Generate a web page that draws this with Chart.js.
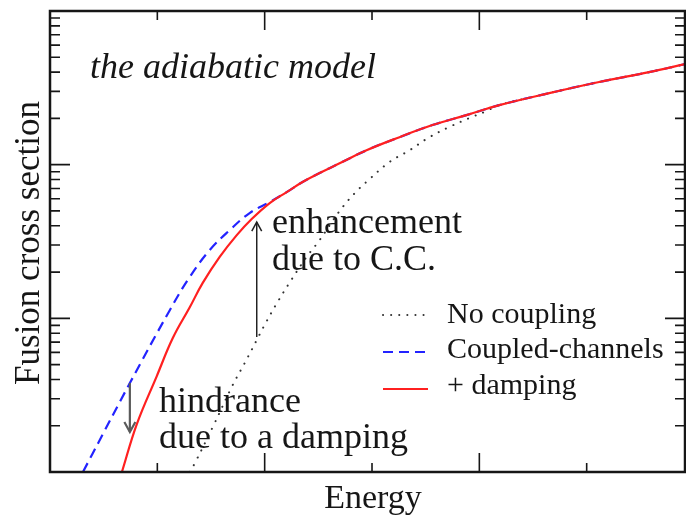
<!DOCTYPE html>
<html>
<head>
<meta charset="utf-8">
<script src="https://cdn.jsdelivr.net/npm/chart.js@4.4.0/dist/chart.umd.min.js"></script>
<style>
  html, body { margin: 0; padding: 0; background: #fff; }
  canvas { display: block; }
</style>
</head>
<body>
<canvas id="fusion" width="686" height="515"></canvas>
<script>
// values (arbitrary units, y is log)
var dampE     = [0.67, 0.809, 0.995, 1.144, 1.302, 1.423, 1.581, 1.74, 1.879, 2.047, 2.205, 2.353, 2.512, 2.698, 2.949, 3.256, 3.563, 3.879, 4.186, 4.651, 5.116, 5.581, 5.916];
var dampSigma = [1.0, 2.05, 4.21, 7.44, 11.8, 17.0, 25.1, 34.8, 44.3, 56.3, 66.3, 77.1, 88.2, 102, 124, 151, 181, 210, 244, 292, 345, 400, 451];

var ccE     = [0.307, 0.4, 0.744, 1.116, 1.302, 1.488, 1.674, 1.86, 2.047, 2.205, 2.353, 2.512, 2.698, 2.949, 3.256, 3.563, 3.879, 4.186, 4.651, 5.116, 5.581, 5.916];
var ccSigma = [1.0, 1.33, 3.79, 11.3, 18.6, 27.8, 37.5, 48.4, 57.1, 66.3, 77.1, 88.2, 102, 124, 151, 181, 210, 244, 292, 345, 400, 451];

var noCoupE     = [1.302, 1.349, 1.516, 1.702, 1.814, 1.926, 2.009, 2.121, 2.242, 2.391, 2.512, 2.698, 2.837, 2.977, 3.163, 3.349, 3.535, 3.721, 3.907, 4.065, 4.186, 4.651, 5.116, 5.581, 5.916];
var noCoupSigma = [1.0, 1.14, 1.96, 3.68, 5.12, 7.22, 9.32, 12.8, 17.5, 25.1, 32.3, 49.9, 65.0, 80.5, 104, 124, 151, 176, 201, 223, 244, 292, 345, 400, 451];

var legendLabels = ['No coupling', 'Coupled-channels', '+ damping'];

var xMajorTicks = [2, 4];
var xMinorTicks = [1, 3, 5];
var yMajorTicks = [10, 100];
var yMinorTicks = [2, 3, 4, 5, 6, 7, 8, 9, 20, 30, 40, 50, 60, 70, 80, 90, 200, 300, 400, 500, 600, 700, 800, 900];

// arrows: [energy, from sigma, to sigma]
var enhanceArrow = [1.926, 7.56, 42.3];
var hinderArrow  = [0.744, 3.79, 1.82];

function pts(xs, ys) {
  return xs.map(function (x, i) { return { x: x, y: ys[i] }; });
}

var serif = '"Liberation Serif", "Times New Roman", serif';
var ink = '#161616';

function arrow(ctx, x, y0, y1, color, width, head) {
  var dir = y1 > y0 ? 1 : -1;
  ctx.save();
  ctx.strokeStyle = color;
  ctx.lineWidth = width;
  ctx.beginPath();
  ctx.moveTo(x, y0);
  ctx.lineTo(x, y1);
  ctx.stroke();
  ctx.beginPath();
  ctx.moveTo(x - head * 0.55, y1 - dir * head);
  ctx.lineTo(x, y1);
  ctx.lineTo(x + head * 0.55, y1 - dir * head);
  ctx.stroke();
  ctx.restore();
}

var decor = {
  id: 'decor',
  afterDatasetsDraw: function (chart) {
    var ctx = chart.ctx, a = chart.chartArea;
    var xs = chart.scales.x, ys = chart.scales.y;

    // frame
    ctx.save();
    ctx.strokeStyle = ink;
    ctx.lineWidth = 2.5;
    ctx.strokeRect(a.left, a.top, a.right - a.left, a.bottom - a.top);

    // inward ticks
    ctx.lineWidth = 1.6;
    ctx.beginPath();
    function xt(v, len) {
      var p = xs.getPixelForValue(v);
      ctx.moveTo(p, a.bottom); ctx.lineTo(p, a.bottom - len);
      ctx.moveTo(p, a.top); ctx.lineTo(p, a.top + len);
    }
    function yt(v, len) {
      var p = ys.getPixelForValue(v);
      ctx.moveTo(a.left, p); ctx.lineTo(a.left + len, p);
      ctx.moveTo(a.right, p); ctx.lineTo(a.right - len, p);
    }
    xMajorTicks.forEach(function (v) { xt(v, 19); });
    xMinorTicks.forEach(function (v) { xt(v, 9); });
    yMajorTicks.forEach(function (v) { yt(v, 20); });
    yMinorTicks.forEach(function (v) { yt(v, 10); });
    ctx.stroke();

    // arrows
    var ex = xs.getPixelForValue(enhanceArrow[0]);
    arrow(ctx, ex, ys.getPixelForValue(enhanceArrow[1]), ys.getPixelForValue(enhanceArrow[2]), '#222', 1.5, 9);
    var hx = xs.getPixelForValue(hinderArrow[0]);
    arrow(ctx, hx, ys.getPixelForValue(hinderArrow[1]), ys.getPixelForValue(hinderArrow[2]), '#5a5a5a', 2.2, 10);

    // texts
    ctx.fillStyle = ink;
    ctx.textBaseline = 'alphabetic';
    ctx.textAlign = 'left';
    ctx.font = 'italic 36px ' + serif;
    ctx.fillText('the adiabatic model', 90, 78);

    ctx.font = '36px ' + serif;
    ctx.fillText('enhancement', 272, 233);
    ctx.fillText('due to C.C.', 272, 270);
    ctx.fillText('hindrance', 159, 412);
    ctx.fillText('due to a damping', 159, 448);

    // legend
    var ds = chart.data.datasets;
    var ly = [315, 352, 389];
    var ty = [323, 358, 394];
    ctx.font = '30px ' + serif;
    legendLabels.forEach(function (lab, i) {
      var d = ds[i];
      ctx.save();
      ctx.strokeStyle = d.borderColor;
      ctx.lineWidth = d.borderWidth;
      ctx.lineCap = d.borderCapStyle || 'butt';
      ctx.setLineDash(d.borderDash || []);
      ctx.beginPath();
      ctx.moveTo(383, ly[i]);
      ctx.lineTo(428, ly[i]);
      ctx.stroke();
      ctx.restore();
      ctx.fillText(lab, 447, ty[i]);
    });

    // axis titles
    ctx.font = '34px ' + serif;
    ctx.textAlign = 'center';
    ctx.fillText('Energy', 373, 508);
    ctx.save();
    ctx.translate(39, 243);
    ctx.rotate(-Math.PI / 2);
    ctx.font = '35px ' + serif;
    ctx.fillText('Fusion cross section', 0, 0);
    ctx.restore();
    ctx.restore();
  }
};

new Chart(document.getElementById('fusion'), {
  type: 'line',
  data: {
    datasets: [{
      label: legendLabels[0],
      data: pts(noCoupE, noCoupSigma),
      borderColor: '#333',
      borderWidth: 2,
      borderDash: [0.1, 8],
      borderCapStyle: 'round',
      order: 2
    }, {
      label: legendLabels[1],
      data: pts(ccE, ccSigma),
      borderColor: '#2323ff',
      borderWidth: 2.2,
      borderDash: [10, 6],
      order: 1
    }, {
      label: legendLabels[2],
      data: pts(dampE, dampSigma),
      borderColor: '#ff2020',
      borderWidth: 2.2,
      order: 0
    }]
  },
  options: {
    responsive: false,
    devicePixelRatio: 1,
    animation: false,
    layout: { padding: { left: 50, top: 11, right: 1, bottom: 43 } },
    elements: {
      point: { radius: 0 },
      line: { tension: 0.4, fill: false }
    },
    scales: {
      x: { type: 'linear', min: 0, max: 5.916, display: false },
      y: { type: 'logarithmic', min: 1, max: 1000, display: false }
    },
    plugins: {
      legend: { display: false },
      tooltip: { enabled: false }
    }
  },
  plugins: [decor]
});
</script>
</body>
</html>
